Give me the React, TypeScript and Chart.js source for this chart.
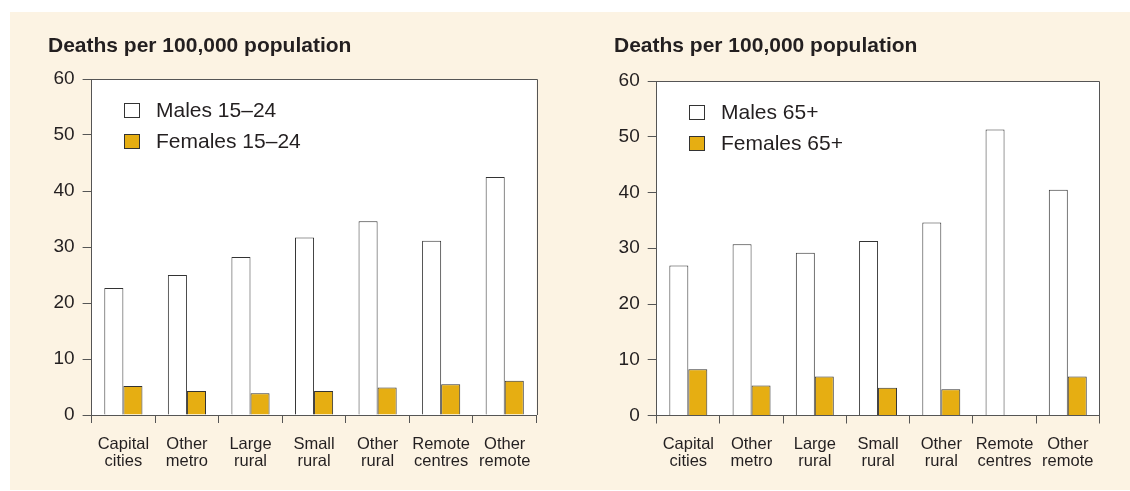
import React, { useEffect, useRef } from "react";
import { Chart, registerables } from "chart.js";

Chart.register(...registerables);

const categories: string[][] = [
  ["Capital", "cities"],
  ["Other", "metro"],
  ["Large", "rural"],
  ["Small", "rural"],
  ["Other", "rural"],
  ["Remote", "centres"],
  ["Other", "remote"],
];
const yTicks = [0, 10, 20, 30, 40, 50, 60];
const males1524 = [22.7, 25.0, 28.2, 31.7, 34.6, 31.1, 42.5];
const females1524 = [5.2, 4.3, 3.9, 4.3, 4.9, 5.5, 6.1];
const males65 = [26.9, 30.7, 29.2, 31.3, 34.6, 51.3, 40.5];
const females65 = [8.3, 5.4, 7.0, 5.0, 4.7, null, 7.0];
const titleText = "Deaths per 100,000 population";

const FONT = "'Liberation Sans', Arial, Helvetica, sans-serif";
const TEXT = "#231f20";
const AXIS = "#555555";
const GOLD = "#e6ae12";
const BAR_EDGE = "#333333";

const framePlugin = {
  id: "frame",
  beforeDraw(chart: any) {
    const { ctx, chartArea: a } = chart;
    ctx.save();
    ctx.fillStyle = "#ffffff";
    ctx.fillRect(a.left, a.top, a.right - a.left, a.bottom - a.top);
    ctx.restore();
  },
  afterDraw(chart: any) {
    const { ctx, chartArea: a } = chart;
    ctx.save();
    ctx.strokeStyle = AXIS;
    ctx.lineWidth = 1;
    ctx.beginPath();
    ctx.moveTo(a.left, Math.round(a.top) + 0.5);
    ctx.lineTo(Math.round(a.right) + 0.5, Math.round(a.top) + 0.5);
    ctx.lineTo(Math.round(a.right) + 0.5, a.bottom);
    ctx.stroke();
    // legend inside plot
    const ds = chart.data.datasets;
    const bx = Math.round(a.left + 32);
    let by = Math.round(a.top + 24);
    ctx.font = `21px ${FONT}`;
    ctx.textBaseline = "middle";
    ctx.textAlign = "left";
    ds.forEach((d: any) => {
      ctx.fillStyle = d.backgroundColor;
      ctx.fillRect(bx, by, 16, 15);
      ctx.strokeStyle = BAR_EDGE;
      ctx.strokeRect(bx + 0.5, by + 0.5, 15, 14);
      ctx.fillStyle = TEXT;
      ctx.fillText(d.label, bx + 32, by + 8.5);
      by += 31;
    });
    ctx.restore();
  },
};

function BarPanel(props: {
  left: number;
  width: number;
  padRight: number;
  yWidth: number;
  xHeight: number;
  maleLabel: string;
  femaleLabel: string;
  males: (number | null)[];
  females: (number | null)[];
  padBottom: number;
}) {
  const ref = useRef<HTMLCanvasElement>(null);
  useEffect(() => {
    const chart = new Chart(ref.current as HTMLCanvasElement, {
      type: "bar",
      data: {
        labels: categories,
        datasets: [
          {
            label: props.maleLabel,
            data: props.males,
            backgroundColor: "#ffffff",
            borderColor: BAR_EDGE,
            borderWidth: 1,
          },
          {
            label: props.femaleLabel,
            data: props.females,
            backgroundColor: GOLD,
            borderColor: BAR_EDGE,
            borderWidth: 1,
          },
        ],
      },
      options: {
        responsive: false,
        animation: false,
        devicePixelRatio: 1,
        layout: { padding: { left: 10, right: props.padRight, top: 0, bottom: 0 } },
        datasets: { bar: { categoryPercentage: 0.6, barPercentage: 1.0 } },
        plugins: {
          legend: { display: false },
          tooltip: { enabled: false },
          title: {
            display: true,
            text: titleText,
            align: "start",
            color: TEXT,
            font: { family: FONT, size: 21, weight: "bold", lineHeight: 1.2 },
            padding: { top: 13.4, bottom: props.padBottom },
          },
        },
        scales: {
          x: {
            grid: {
              offset: true,
              drawOnChartArea: false,
              drawTicks: true,
              tickLength: 8,
              color: AXIS,
            },
            border: { display: true, color: AXIS, width: 1 },
            ticks: {
              color: TEXT,
              font: { family: FONT, size: 16.5, lineHeight: 1.02 },
              padding: 13,
              maxRotation: 0,
              autoSkip: false,
            },
            afterFit: (s: any) => {
              s.height = props.xHeight;
            },
          },
          y: {
            min: 0,
            max: 60,
            afterBuildTicks: (s: any) => {
              s.ticks = yTicks.map((v) => ({ value: v }));
            },
            grid: {
              drawOnChartArea: false,
              drawTicks: true,
              tickLength: 9,
              color: AXIS,
            },
            border: { display: true, color: AXIS, width: 1 },
            ticks: {
              color: TEXT,
              font: { family: FONT, size: 19 },
              padding: 8,
            },
            afterFit: (s: any) => {
              s.width = props.yWidth;
            },
          },
        },
      },
      plugins: [framePlugin],
    } as any);
    return () => chart.destroy();
  }, []);
  return (
    <canvas
      ref={ref}
      width={props.width}
      height={460}
      style={{ position: "absolute", left: props.left, top: 20 }}
    />
  );
}

export default function App() {
  return (
    <div
      style={{
        position: "fixed",
        left: 0,
        top: 0,
        width: 1130,
        height: 491,
        background: "#ffffff",
      }}
    >
      <div
        style={{
          position: "absolute",
          left: 10,
          top: 12,
          width: 1120,
          height: 478,
          background: "#fcf3e3",
        }}
      />
      <BarPanel
        left={38}
        width={509}
        padRight={10.5}
        yWidth={43.6}
        xHeight={65}
        maleLabel="Males 15–24"
        femaleLabel="Females 15–24"
        males={males1524}
        females={females1524}
        padBottom={20.4}
      />
      <BarPanel
        left={604}
        width={506}
        padRight={10.6}
        yWidth={42.7}
        xHeight={64.5}
        maleLabel="Males 65+"
        femaleLabel="Females 65+"
        males={males65}
        females={females65}
        padBottom={22.4}
      />
    </div>
  );
}
